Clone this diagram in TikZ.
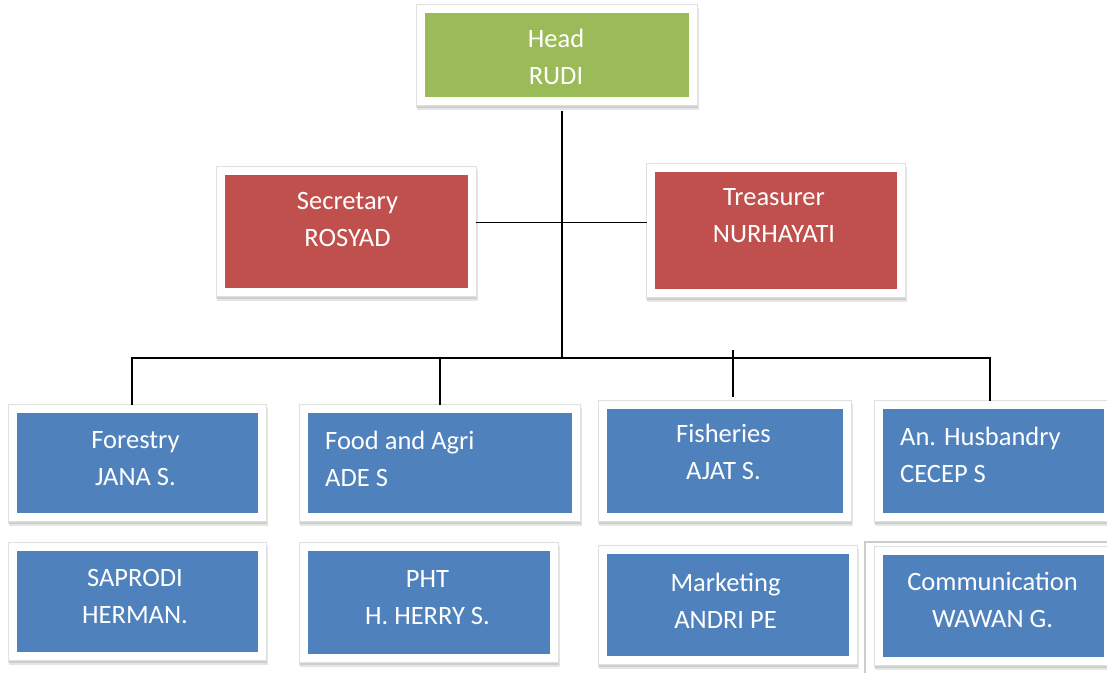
\documentclass[tikz,border=0pt]{standalone}
\usepackage{fontspec}
\setmainfont{Carlito}
\usepackage{tikz}
\usetikzlibrary{positioning, calc}

\definecolor{headgreen}{HTML}{9BBB59}
\definecolor{staffred}{HTML}{C0504D}
\definecolor{unitblue}{HTML}{4F81BD}

\tikzset{
    orgbox/.style={rectangle, draw=white, line width=8pt, inner sep=0pt,
        preaction={draw=black, draw opacity=.10, line width=10pt, transform canvas={xshift=1pt, yshift=-4pt}},
        preaction={draw=black, draw opacity=.10, line width=10pt, transform canvas={yshift=-2pt}},
        preaction={draw=black!12, line width=9.5pt}},
    orgtxt/.style={text=white, align=center, inner sep=0pt, font=\fontsize{26.5}{37}\selectfont},
    link/.style={draw=black, line width=1.8pt}
}

\begin{document}
\begin{tikzpicture}[x=1pt, y=-1pt]
    \useasboundingbox (0,0) rectangle (1107,673);

    % 1. Head and staff
    \node[orgbox, fill=headgreen, minimum width=272pt, minimum height=92pt] (head) at (557,55) {};
    \node[orgtxt] (headtxt) at (556,56.5) {Head\\RUDI};

    \node[orgbox, fill=staffred, minimum width=251pt, minimum height=121pt] (sec) at (346.5,231.5) {};
    \node[orgtxt] (sectxt) at (347.5,219) {Secretary\\ROSYAD};

    \node[orgbox, fill=staffred, minimum width=250pt, minimum height=125pt] (tre) at (776,230.5) {};
    \node[orgtxt] (tretxt) at (774,215.5) {Treasurer\\NURHAYATI};

    % 2. Sections, first row
    \node[orgbox, fill=unitblue, minimum width=249pt, minimum height=108pt] (fore) at (137.5,463) {};
    \node[orgtxt] (foretxt) at (135.5,459) {Forestry\\JANA S.};

    \node[orgbox, fill=unitblue, minimum width=272pt, minimum height=108pt] (food) at (440,463) {};
    \node[orgtxt, align=left, anchor=west] (foodtxt) at (325,459) {Food and Agri\\ADE S};

    \node[orgbox, fill=unitblue, minimum width=244pt, minimum height=112pt] (fish) at (725,461) {};
    \node[orgtxt] (fishtxt) at (723.5,451.5) {Fisheries\\AJAT S.};

    \node[orgbox, fill=unitblue, minimum width=229pt, minimum height=112pt] (husb) at (993.5,461) {};
    \node[orgtxt, align=left, anchor=west] (husbtxt) at (900,455) {An. Husbandry\\CECEP S};

    % 3. Sections, second row
    \node[orgbox, fill=unitblue, minimum width=249pt, minimum height=109pt] (sap) at (137.5,601.5) {};
    \node[orgtxt] (saptxt) at (135,596.5) {SAPRODI\\HERMAN.};

    \node[orgbox, fill=unitblue, minimum width=250pt, minimum height=111pt] (pht) at (429,602.5) {};
    \node[orgtxt] (phttxt) at (427.5,598) {PHT\\H. HERRY S.};

    \node[orgbox, fill=unitblue, minimum width=250pt, minimum height=110pt] (mkt) at (728,605) {};
    \node[orgtxt] (mkttxt) at (725.5,601) {Marketing\\ANDRI PE};

    \node[orgbox, fill=unitblue, minimum width=229pt, minimum height=110pt] (comm) at (993.5,606) {};
    \node[orgtxt] (commtxt) at (992.5,600) {Communication\\WAWAN G.};

    % 4. Connectors
    \coordinate (bus) at (562,358);
    \draw[link] ([xshift=5pt,yshift=-6pt]head.south) -- (bus);
    \draw[link] ([yshift=9pt]sec.east) -- ([yshift=9pt]sec.east -| tre.west);
    \draw[link] ([xshift=-5.5pt]fore.north) |- ([xshift=-3.5pt]husb.north |- bus) -- ([xshift=-3.5pt]husb.north);
    \draw[link] (food.north) -- (food.north |- bus);
    \draw[link] ([xshift=8pt,yshift=4pt]fish.north) -- ([xshift=8pt,yshift=8pt]fish.north |- bus);

    % 5. Frame edge at bottom right
    \draw[gray!40, line width=2pt] (865,673) -- (865,542) -- (1107,542);

\end{tikzpicture}
\end{document}
